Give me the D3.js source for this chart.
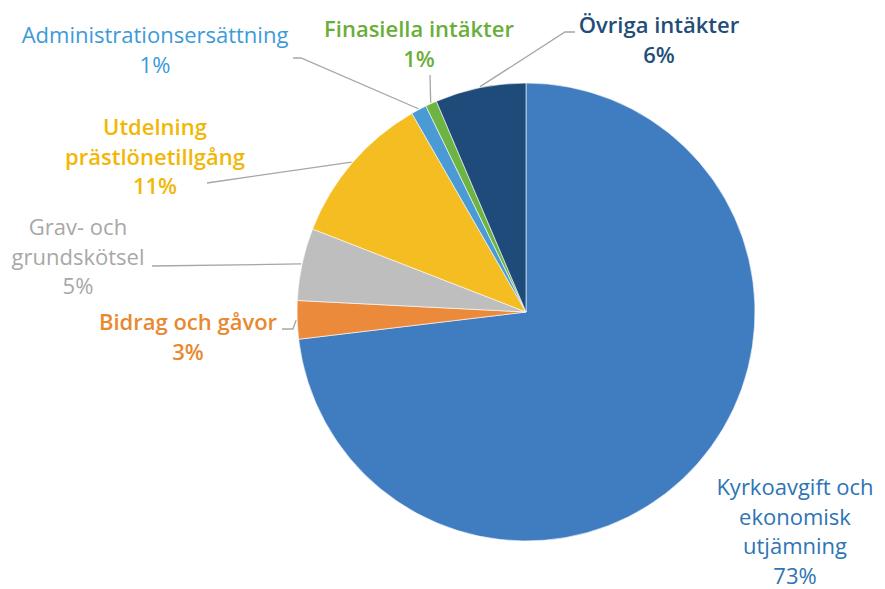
<!DOCTYPE html>
<html>
<head>
<meta charset="utf-8">
<script src="https://cdn.jsdelivr.net/npm/d3@7"></script>
<style>
  body { margin: 0; background: #fff; }
  svg text { font-family: "Open Sans", Lato, sans-serif; }
</style>
</head>
<body>
<div id="chart"></div>
<script>
// categories in drawing order, clockwise from 12 o'clock
var categories = [
    "Kyrkoavgift och ekonomisk utjämning",
    "Bidrag och gåvor",
    "Grav- och grundskötsel",
    "Utdelning prästlönetillgång",
    "Administrationsersättning",
    "Finasiella intäkter",
    "Övriga intäkter"
];
// share of income, percent
var shares = [73.1, 2.7, 5.1, 10.8, 1.1, 0.8, 6.4];
// percent text as printed
var pctLabels = ["73%", "3%", "5%", "11%", "1%", "1%", "6%"];
// how the names are broken over lines
var nameLines = [
    ["Kyrkoavgift och", "ekonomisk", "utjämning"],
    ["Bidrag och gåvor"],
    ["Grav- och", "grundskötsel"],
    ["Utdelning", "prästlönetillgång"],
    ["Administrationsersättning"],
    ["Finasiella intäkter"],
    ["Övriga intäkter"]
];

var sliceColors = ["#3F7CC0", "#EC8A3C", "#BEBEBE", "#F4BE22", "#4A9AD5", "#6DB443", "#1F4B7A"];
var textColors = ["#2E74B5", "#E8892F", "#A8A8A8", "#F2B705", "#3C9AD8", "#6AAE3A", "#1F4E79"];
var textWeights = [400, 600, 400, 600, 400, 600, 600];

// label placement: centre x, first baseline, leader start (null = no leader)
var labelLayout = [
    { x: 795, y: 495, lead: null },
    { x: 188, y: 330, lead: [[282, 329], [293, 329]] },
    { x: 78, y: 235, lead: [[152, 266]] },
    { x: 155, y: 135, lead: [[207, 183]] },
    { x: 155, y: 43, lead: [[293, 58], [301, 58]] },
    { x: 419, y: 37, lead: [[430, 75]] },
    { x: 659, y: 33, lead: [[575, 32], [565, 32]] }
];

var width = 885, height = 589;
var cx = 526, cy = 312, radius = 229;
var lineH = 29.5;

var svg = d3.select("#chart")
    .append("svg")
    .attr("width", width)
    .attr("height", height);

var pie = d3.pie()
    .sort(null)
    .value(function (d) { return d; });

var arc = d3.arc()
    .innerRadius(0)
    .outerRadius(radius);

var arcs = pie(shares);

var g = svg.append("g")
    .attr("transform", `translate(${cx},${cy})`);

g.selectAll(".slice")
    .data(arcs)
    .enter()
    .append("path")
    .attr("class", "slice")
    .attr("fill", (d, i) => sliceColors[i])
    .attr("stroke", "#fff")
    .attr("stroke-width", 0.6)
    .attr("d", arc);

// leader lines: from the label to the middle of the slice's rim
arcs.forEach(function (a, i) {
    var lay = labelLayout[i];
    if (!lay.lead) return;
    var mid = (a.startAngle + a.endAngle) / 2;
    var end = [cx + (radius + 1) * Math.sin(mid), cy - (radius + 1) * Math.cos(mid)];
    var pts = lay.lead.concat([end]);
    svg.append("path")
        .attr("d", d3.line()(pts))
        .attr("fill", "none")
        .attr("stroke", "#A6A6A6")
        .attr("stroke-width", 1.3);
});

// labels
categories.forEach(function (c, i) {
    var lay = labelLayout[i];
    var t = svg.append("text")
        .attr("x", lay.x)
        .attr("y", lay.y)
        .attr("text-anchor", "middle")
        .attr("fill", textColors[i])
        .attr("font-size", 22)
        .attr("font-weight", textWeights[i]);
    nameLines[i].concat([pctLabels[i]]).forEach(function (line, j) {
        t.append("tspan")
            .attr("x", lay.x)
            .attr("y", lay.y + j * lineH)
            .text(line);
    });
});
</script>
</body>
</html>
